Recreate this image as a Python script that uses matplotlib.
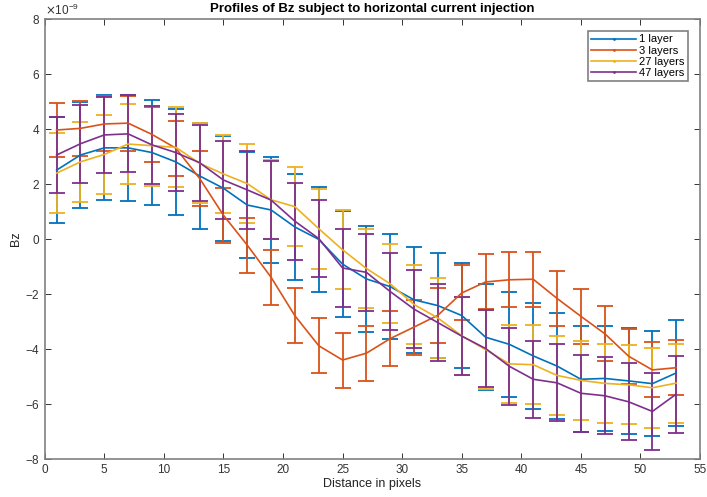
import matplotlib

matplotlib.use("Agg")
import matplotlib.pyplot as plt
from matplotlib.lines import Line2D
from matplotlib.ticker import ScalarFormatter

plt.rcParams["font.family"] = ["Liberation Sans", "DejaVu Sans"]
plt.rcParams["axes.unicode_minus"] = False

# distance in pixels
x = [1, 3, 5, 7, 9, 11, 13, 15, 17, 19, 21, 23, 25, 27,
     29, 31, 33, 35, 37, 39, 41, 43, 45, 47, 49, 51, 53]

# mean Bz (units of 1e-9)
bz_1 = [2.50, 3.05, 3.31, 3.31, 3.14, 2.80, 2.29, 1.84, 1.23, 1.05, 0.43, -0.02, -0.92, -1.46,
        -1.74, -2.22, -2.43, -2.79, -3.58, -3.84, -4.26, -4.63, -5.11, -5.08, -5.17, -5.27, -4.88]
bz_3 = [3.96, 4.02, 4.18, 4.21, 3.80, 3.30, 2.20, 0.86, -0.23, -1.40, -2.80, -3.89, -4.41, -4.16,
        -3.63, -3.21, -2.78, -1.97, -1.57, -1.49, -1.47, -2.17, -2.82, -3.45, -4.27, -4.77, -4.69]
bz_27 = [2.39, 2.80, 3.07, 3.45, 3.39, 3.33, 2.75, 2.36, 2.01, 1.42, 1.17, 0.37, -0.40, -1.08,
         -1.64, -2.39, -2.88, -3.53, -4.03, -4.55, -4.58, -4.97, -5.15, -5.26, -5.31, -5.42, -5.25]
bz_47 = [3.05, 3.46, 3.78, 3.82, 3.42, 3.14, 2.77, 2.14, 1.78, 1.41, 0.64, 0.01, -1.06, -1.22,
         -1.92, -2.56, -3.05, -3.54, -3.99, -4.64, -5.11, -5.24, -5.62, -5.71, -5.93, -6.28, -5.65]

# error bar half-lengths (units of 1e-9)
err_1 = [1.94, 1.94, 1.91, 1.92, 1.92, 1.92, 1.92, 1.92, 1.93, 1.92, 1.92, 1.92, 1.92, 1.92,
         1.91, 1.92, 1.91, 1.91, 1.92, 1.91, 1.92, 1.92, 1.92, 1.92, 1.92, 1.92, 1.92]
err_3 = [1.00, 1.00, 1.00, 1.00, 1.00, 1.00, 1.00, 1.00, 1.00, 1.00, 1.00, 1.00, 1.00, 1.00,
         1.00, 1.00, 1.00, 1.00, 1.00, 1.00, 1.00, 1.00, 1.00, 1.00, 1.00, 1.00, 1.00]
err_27 = [1.45, 1.45, 1.45, 1.45, 1.45, 1.45, 1.45, 1.43, 1.44, 1.44, 1.44, 1.45, 1.44, 1.44,
          1.44, 1.44, 1.44, 1.43, 1.45, 1.43, 1.44, 1.43, 1.44, 1.44, 1.44, 1.45, 1.44]
err_47 = [1.38, 1.42, 1.39, 1.40, 1.42, 1.40, 1.39, 1.41, 1.41, 1.41, 1.40, 1.41, 1.42, 1.41,
          1.40, 1.41, 1.41, 1.42, 1.41, 1.41, 1.41, 1.40, 1.41, 1.40, 1.40, 1.40, 1.40]

labels = ["1 layer", "3 layers", "27 layers", "47 layers"]
colors = ["#0072BD", "#D95319", "#EDB120", "#7E2F8E"]

fig = plt.figure(figsize=(7.07, 4.97), dpi=100)
ax = fig.add_axes([0.0632, 0.0771, 0.927, 0.8847])

series = [(bz_1, err_1), (bz_3, err_3), (bz_27, err_27), (bz_47, err_47)]
for (vals, errs), c in zip(series, colors):
    y = [v * 1e-9 for v in vals]
    e = [v * 1e-9 for v in errs]
    ax.errorbar(x, y, yerr=e, color=c, ecolor=c, linewidth=1.2, elinewidth=1.3,
                capsize=6, capthick=1.3)

ax.set_xlim(0, 55)
ax.set_ylim(-8e-9, 8e-9)
ax.set_xticks(range(0, 56, 5))
ax.set_yticks([v * 1e-9 for v in range(-8, 9, 2)])

fmt = ScalarFormatter(useMathText=True)
fmt.set_powerlimits((0, 0))
ax.yaxis.set_major_formatter(fmt)
off = ax.yaxis.get_offset_text()
off.set_fontsize(8.5)
off.set_color("#444444")

ax.tick_params(direction="in", top=True, right=True, labelsize=8.5,
               colors="#333333", length=4, width=0.7)
for s in ax.spines.values():
    s.set_color("#808080")
    s.set_linewidth(1.2)

ax.set_title("Profiles of Bz subject to horizontal current injection",
             fontsize=9.5, fontweight="bold", pad=5)
ax.set_xlabel("Distance in pixels", fontsize=9, labelpad=2, color="#222222")
ax.set_ylabel("Bz", fontsize=9, labelpad=2, color="#222222")

handles = [Line2D([0], [0], color=c, linewidth=1.2, marker=".", markersize=2)
           for c in colors]
leg = ax.legend(handles, labels, loc="upper right", fontsize=8,
                fancybox=False, framealpha=1, edgecolor="#808080",
                handlelength=4.0, handletextpad=0.3, borderpad=0.3,
                labelspacing=0.1, bbox_to_anchor=(0.99, 0.985))
leg.get_frame().set_linewidth(1.2)

fig.savefig("out.png", dpi=100)
